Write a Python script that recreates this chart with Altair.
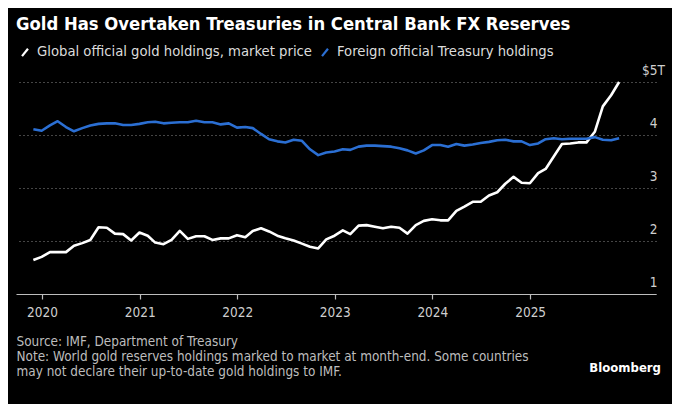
import altair as alt
import pandas as pd

# Month-end observations, Nov 2019 .. Nov 2025 (trillions of USD)
dates = [d.strftime("%Y-%m-%d") for d in pd.date_range("2019-11-30", periods=73, freq="ME")]

gold = [
    1.64, 1.70, 1.79, 1.79, 1.79, 1.91, 1.96, 2.02, 2.26, 2.25, 2.14, 2.13,
    2.01, 2.16, 2.10, 1.97, 1.94, 2.02, 2.19, 2.04, 2.09, 2.09, 2.02, 2.05,
    2.05, 2.11, 2.07, 2.19, 2.24, 2.18, 2.10, 2.05, 2.01, 1.95, 1.89, 1.86,
    2.03, 2.10, 2.20, 2.13, 2.29, 2.30, 2.27, 2.24, 2.27, 2.25, 2.14, 2.30,
    2.38, 2.41, 2.39, 2.39, 2.57, 2.65, 2.74, 2.74, 2.86, 2.92, 3.08, 3.21,
    3.10, 3.09, 3.28, 3.36, 3.60, 3.83, 3.84, 3.86, 3.86, 4.06, 4.54, 4.75,
    5.00,
]

treasury = [
    4.11, 4.08, 4.18, 4.26, 4.15, 4.07, 4.13, 4.18, 4.21, 4.22, 4.22, 4.19,
    4.19, 4.21, 4.24, 4.25, 4.22, 4.23, 4.24, 4.24, 4.27, 4.24, 4.24, 4.20,
    4.22, 4.14, 4.15, 4.13, 4.02, 3.92, 3.88, 3.86, 3.91, 3.89, 3.73, 3.62,
    3.67, 3.69, 3.73, 3.72, 3.78, 3.80, 3.80, 3.79, 3.78, 3.75, 3.71, 3.65,
    3.71, 3.81, 3.81, 3.78, 3.83, 3.80, 3.82, 3.85, 3.87, 3.90, 3.91, 3.88,
    3.88, 3.81, 3.84, 3.92, 3.94, 3.92, 3.93, 3.93, 3.93, 3.96, 3.91, 3.90,
    3.94,
]

series_names = ["Global official gold holdings, market price", "Foreign official Treasury holdings"]
series_colors = ["#ffffff", "#2b6fd3"]
y_ticks = [1, 2, 3, 4, 5]
x_tick_years = [2020, 2021, 2022, 2023, 2024, 2025]

title_text = "Gold Has Overtaken Treasuries in Central Bank FX Reserves"
footer_lines = [
    "Source: IMF, Department of Treasury",
    "Note: World gold reserves holdings marked to market at month-end. Some countries",
    "may not declare their up-to-date gold holdings to IMF.",
]

df = pd.concat([
    pd.DataFrame({"date": dates, "value": gold, "series": series_names[0]}),
    pd.DataFrame({"date": dates, "value": treasury, "series": series_names[1]}),
])

FONT = "Liberation Sans Narrow, DejaVu Sans Condensed, Roboto Condensed, Roboto, sans-serif"

lines = alt.Chart(df).mark_line(strokeWidth=2.6, strokeJoin="round").encode(
    x=alt.X(
        "date:T",
        scale=alt.Scale(domain=["2019-09-26", "2026-04-17"]),
        axis=alt.Axis(
            format="%Y", values=[alt.DateTime(year=y, month=1, date=1) for y in x_tick_years],
            grid=False, domainColor="#bdbdbd", domainWidth=1.2,
            tickColor="#bdbdbd", tickSize=5, tickWidth=1.2,
            labelColor="#cfcfcf", labelFontSize=13.5, labelFont=FONT, labelPadding=6,
            title=footer_lines, titleAnchor="start", titleAlign="left", titleBaseline="top",
            titleX=0, titleY=40, titleColor="#bdbdbd", titleFont=FONT, titleFontSize=13.45,
            titleFontWeight="normal", titleLineHeight=15,
        ),
    ),
    y=alt.Y(
        "value:Q",
        scale=alt.Scale(domain=[1, 5], nice=False, zero=False),
        axis=alt.Axis(
            orient="right", values=y_ticks, domain=False, ticks=False,
            grid=True, gridColor="#8a8a8a", gridDash=[1, 3], gridWidth=1,
            labelExpr="datum.value == 5 ? '$5T' : datum.label",
            labelAlign="center", labelPadding=-3, labelBaseline="alphabetic", labelOffset=-8,
            labelColor="#cfcfcf", labelFontSize=13.5, labelFont=FONT, title=None,
        ),
    ),
    color=alt.Color(
        "series:N",
        scale=alt.Scale(domain=series_names, range=series_colors),
        legend=alt.Legend(
            orient="none", legendX=0, legendY=-39, direction="horizontal", title=None,
            symbolType="M-0.4,0.5L0.4,-0.5", symbolSize=220, symbolStrokeWidth=2.2,
            labelColor="#dcdcdc", labelFontSize=14.7, labelFont=FONT, labelLimit=600,
            columnPadding=3, symbolOffset=0, labelOffset=3,
        ),
    ),
)

brand = alt.Chart(pd.DataFrame({"t": ["Bloomberg"]})).mark_text(
    align="right", baseline="middle", font=FONT, fontSize=13, fontWeight="bold", color="white"
).encode(text="t:N", x=alt.value(645), y=alt.value(286))

chart = alt.layer(lines, brand).properties(
    width=640, height=212,
    title=alt.TitleParams(
        text=title_text, anchor="start", font=FONT, fontSize=18.3, fontWeight="bold",
        color="white", offset=9,
    ),
    padding={"left": 8, "top": 74, "right": 16, "bottom": 110},
    autosize=alt.AutoSizeParams(type="none"),
).configure(background="black").configure_view(stroke=None)

chart.save("out.html", embed_options={"renderer": "svg", "actions": False})
